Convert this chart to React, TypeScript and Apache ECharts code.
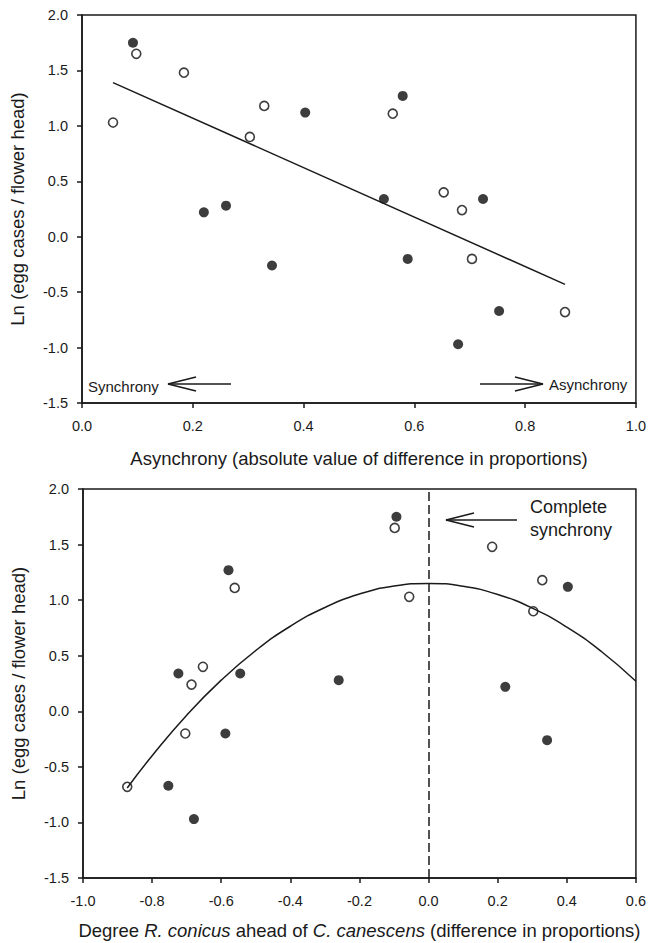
import React, { useEffect, useRef } from "react";
import * as echarts from "echarts";

// Top panel: |difference in proportions| vs Ln(egg cases / flower head)
const topFilledX = [0.092, 0.22, 0.26, 0.343, 0.403, 0.545, 0.579, 0.588, 0.679, 0.724, 0.753];
const topFilledY = [1.75, 0.22, 0.28, -0.26, 1.12, 0.34, 1.27, -0.2, -0.97, 0.34, -0.67];
const topOpenX = [0.056, 0.098, 0.184, 0.303, 0.329, 0.561, 0.653, 0.686, 0.704, 0.872];
const topOpenY = [1.03, 1.65, 1.48, 0.9, 1.18, 1.11, 0.4, 0.24, -0.2, -0.68];
const topFitX = [0.056, 0.872];
const topFitY = [1.39, -0.43];

// Bottom panel: signed difference (R. conicus ahead of C. canescens)
const botFilledX = [-0.093, 0.222, -0.26, 0.343, 0.403, -0.545, -0.579, -0.588, -0.679, -0.724, -0.753];
const botFilledY = [1.75, 0.22, 0.28, -0.26, 1.12, 0.34, 1.27, -0.2, -0.97, 0.34, -0.67];
const botOpenX = [-0.056, -0.098, 0.184, 0.303, 0.329, -0.561, -0.653, -0.686, -0.704, -0.872];
const botOpenY = [1.03, 1.65, 1.48, 0.9, 1.18, 1.11, 0.4, 0.24, -0.2, -0.68];
const botFitX = [-0.872, -0.8, -0.7, -0.6, -0.5, -0.4, -0.3, -0.2, -0.1, 0, 0.1, 0.2, 0.3, 0.4, 0.5, 0.6];
const botFitY = [-0.69, -0.4, -0.035, 0.28, 0.547, 0.765, 0.934, 1.055, 1.127, 1.15, 1.125, 1.051, 0.928, 0.757, 0.538, 0.27];
const syncX = [0];

const yTicks = { min: -1.5, max: 2.0, interval: 0.5 };
const topXTicks = { min: 0, max: 1.0, interval: 0.2 };
const botXTicks = { min: -1.0, max: 0.6, interval: 0.2 };

const FONT = '"Liberation Sans", Arial, Helvetica, sans-serif';
const INK = "#1a1a1a";
const MARK = "#0d0d0d";

const zip = (xs: number[], ys: number[]) => xs.map((x, i) => [x, ys[i]]);
const fmt = (v: number) => (Math.abs(v) < 1e-9 ? "0.0" : v.toFixed(1));

export default function App() {
  const ref = useRef<HTMLDivElement>(null);
  useEffect(() => {
    if (!ref.current) return;
    const chart = echarts.init(ref.current, undefined, { renderer: "svg" });
    const axisCommon = {
      type: "value" as const,
      splitLine: { show: false },
      axisLine: { show: true, onZero: false, lineStyle: { color: INK, width: 1.5 } },
      axisTick: { show: true, inside: false, length: 5, lineStyle: { color: INK, width: 1.5 } },
      axisLabel: { color: INK, fontSize: 14.5, fontFamily: FONT, formatter: fmt },
      nameLocation: "middle" as const,
    };
    const titleStyle = { color: INK, fontSize: 18.5, fontFamily: FONT };
    const yAxisCfg = {
      ...axisCommon,
      ...yTicks,
      name: "Ln (egg cases / flower head)",
      nameGap: 55,
      nameTextStyle: titleStyle,
      axisLabel: { ...axisCommon.axisLabel, margin: 14 },
    };
    const filledStyle = { color: MARK };
    const openStyle = { color: "#fff", borderColor: MARK, borderWidth: 1.6 };
    const lineStyle = { color: INK, width: 1.5 };
    const txt = (x: number, y: number, text: string, size: number) => ({
      type: "text",
      x,
      y,
      style: { text, fill: INK, fontSize: size, fontFamily: FONT, align: "left", verticalAlign: "middle" },
    });
    const arrow = (tipX: number, tipY: number, tailX: number, dir: number) => [
      { type: "line", shape: { x1: tailX, y1: tipY, x2: tipX, y2: tipY }, style: { stroke: INK, lineWidth: 1.4 } },
      {
        type: "polyline",
        shape: { points: [[tipX + dir * 28, tipY - 7], [tipX, tipY], [tipX + dir * 28, tipY + 7]] },
        style: { stroke: INK, lineWidth: 1.4, fill: null },
      },
    ];

    chart.setOption({
      animation: false,
      grid: [
        { left: 82, top: 15, width: 554, height: 388, show: true, borderColor: INK, borderWidth: 1.5, containLabel: false },
        { left: 83, top: 489, width: 554, height: 389, show: true, borderColor: INK, borderWidth: 1.5, containLabel: false },
      ],
      xAxis: [
        {
          ...axisCommon,
          ...topXTicks,
          gridIndex: 0,
          name: "Asynchrony (absolute value of difference in proportions)",
          nameGap: 46,
          nameTextStyle: titleStyle,
          axisLabel: { ...axisCommon.axisLabel, margin: 15 },
        },
        {
          ...axisCommon,
          ...botXTicks,
          gridIndex: 1,
          name: "{n|Degree }{i|R. conicus}{n| ahead of }{i|C. canescens}{n| (difference in proportions)}",
          nameGap: 43,
          nameTextStyle: {
            ...titleStyle,
            rich: {
              n: { ...titleStyle },
              i: { ...titleStyle, fontStyle: "italic" },
            },
          },
          axisLabel: { ...axisCommon.axisLabel, margin: 15 },
        },
      ],
      yAxis: [
        { ...yAxisCfg, gridIndex: 0 },
        { ...yAxisCfg, gridIndex: 1 },
      ],
      series: [
        {
          type: "line", xAxisIndex: 0, yAxisIndex: 0, data: zip(topFitX, topFitY),
          showSymbol: false, lineStyle, silent: true,
        },
        {
          type: "scatter", xAxisIndex: 0, yAxisIndex: 0, data: zip(topFilledX, topFilledY),
          symbol: "circle", symbolSize: 10, itemStyle: filledStyle,
        },
        {
          type: "scatter", xAxisIndex: 0, yAxisIndex: 0, data: zip(topOpenX, topOpenY),
          symbol: "circle", symbolSize: 9, itemStyle: openStyle,
        },
        {
          type: "line", xAxisIndex: 1, yAxisIndex: 1, data: zip(botFitX, botFitY),
          showSymbol: false, smooth: true, lineStyle, silent: true,
          markLine: {
            silent: true,
            symbol: ["none", "none"],
            label: { show: false },
            lineStyle: { color: INK, width: 1.5, type: [9, 4] },
            data: syncX.map((x) => ({ xAxis: x })),
          },
        },
        {
          type: "scatter", xAxisIndex: 1, yAxisIndex: 1, data: zip(botFilledX, botFilledY),
          symbol: "circle", symbolSize: 10, itemStyle: filledStyle,
        },
        {
          type: "scatter", xAxisIndex: 1, yAxisIndex: 1, data: zip(botOpenX, botOpenY),
          symbol: "circle", symbolSize: 9, itemStyle: openStyle,
        },
      ],
      graphic: [
        txt(88, 386, "Synchrony", 15),
        ...arrow(168, 384, 231, 1),
        txt(549, 384, "Asynchrony", 15),
        ...arrow(543, 384, 480, -1),
        txt(530, 507, "Complete", 18),
        txt(530, 530, "synchrony", 18),
        ...arrow(446, 520, 517, 1),
      ],
    });
    return () => chart.dispose();
  }, []);
  return (
    <div
      ref={ref}
      style={{ position: "fixed", left: 0, top: 0, width: 649, height: 943, background: "#fff" }}
    />
  );
}
